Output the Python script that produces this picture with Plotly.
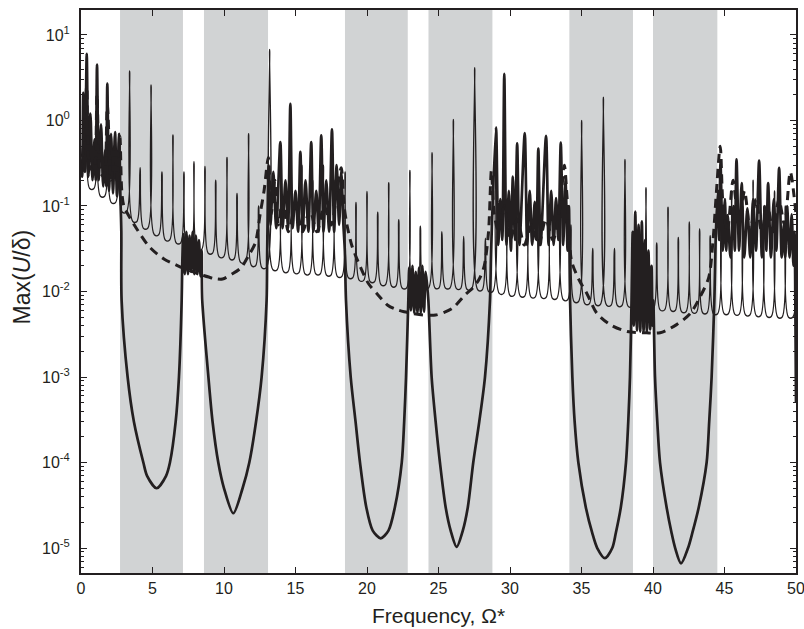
import plotly.graph_objects as go

# ---------------------------------------------------------------
# Shaded stop bands (frequency limits)
# ---------------------------------------------------------------
band_lo = [2.73, 8.60, 18.46, 24.30, 34.15, 40.00]
band_hi = [7.13, 13.08, 22.85, 28.77, 38.60, 44.50]

# ---------------------------------------------------------------
# Thin curve: resonance peaks and the trough that follows each peak
# ---------------------------------------------------------------
thin_start = 0.22
thin_end = 0.02
thin_peak_x = [0.38, 1.13, 1.88, 2.65, 3.40, 4.13, 4.90, 5.66, 6.43, 7.20,
               7.90, 8.67, 9.42, 10.21, 10.91, 11.72, 12.42, 13.19, 13.95, 14.70,
               15.45, 16.20, 16.95, 17.70, 18.47, 19.23, 20.00, 20.75, 21.52, 22.22,
               23.00, 23.73, 24.55, 25.24, 26.04, 26.76, 27.53, 28.28, 29.02, 29.78,
               30.50, 31.25, 31.98, 32.75, 33.50, 34.26, 35.01, 35.78, 36.53, 37.30,
               38.04, 38.78, 39.51, 40.26, 41.05, 41.77, 42.54, 43.26, 44.00, 44.75,
               45.50, 46.25, 47.00, 47.75, 48.50, 49.25]
thin_peak_y = [2.0, 1.5, 1.0, 0.7, 3.8, 0.28, 2.6, 0.25, 0.68, 0.25,
               0.33, 0.29, 0.20, 0.37, 0.14, 0.70, 0.10, 6.8, 0.30, 0.20,
               0.30, 0.20, 0.30, 0.20, 0.25, 0.11, 0.148, 0.085, 0.187, 0.069,
               0.26, 0.058, 0.42, 0.050, 1.03, 0.044, 4.15, 0.042, 0.83, 0.12,
               0.54, 0.10, 0.47, 0.10, 0.30, 0.06, 1.0, 0.032, 1.87, 0.032,
               0.35, 0.030, 0.164, 0.037, 0.097, 0.043, 0.065, 0.054, 0.045, 0.12,
               0.15, 0.10, 0.20, 0.10, 0.15, 0.10]
thin_trough_y = [0.16, 0.13, 0.11, 0.085, 0.066, 0.055, 0.046, 0.040, 0.037, 0.033,
                 0.031, 0.028, 0.0255, 0.024, 0.022, 0.020, 0.019, 0.018, 0.017, 0.0165,
                 0.016, 0.016, 0.0155, 0.015, 0.0145, 0.0135, 0.013, 0.012, 0.0115, 0.011,
                 0.011, 0.011, 0.011, 0.011, 0.0108, 0.0106, 0.0104, 0.010, 0.0095, 0.009,
                 0.0088, 0.0086, 0.0085, 0.0083, 0.008, 0.0076, 0.0072, 0.0070, 0.0069, 0.0068,
                 0.0067, 0.0065, 0.0063, 0.0061, 0.0060, 0.0058, 0.0057, 0.0056, 0.0055, 0.0055,
                 0.0054, 0.0053, 0.0052, 0.0051, 0.0050, 0.0050]

# ---------------------------------------------------------------
# Thick curve, range by range (pass bands oscillate, stop bands dip)
# ---------------------------------------------------------------
thick_p0_x = [0.00, 0.08, 0.16, 0.28, 0.40, 0.52, 0.66, 0.80, 0.95, 1.03,
              1.12, 1.24, 1.40, 1.55, 1.70, 1.77, 1.84, 1.96, 2.10, 2.24,
              2.38, 2.52, 2.66, 2.76, 2.82]
thick_p0_y = [0.35, 0.22, 2.1, 0.25, 6.0, 0.22, 1.2, 0.20, 0.60, 0.20,
              4.5, 0.20, 0.90, 0.17, 0.45, 0.17, 2.7, 0.15, 0.70, 0.14,
              0.73, 0.13, 0.70, 0.12, 0.05]

thick_s1_x = [2.84, 3.26, 3.70, 4.36, 4.62, 5.29, 5.95, 6.22, 6.62, 6.85, 7.04]
thick_s1_y = [7.9e-3, 1e-3, 3e-4, 1e-4, 7e-5, 5.0e-5, 7e-5, 1e-4, 3e-4, 1e-3, 7.9e-3]

thick_p1_x = [7.08, 7.15, 7.26, 7.37, 7.48, 7.59, 7.70, 7.81, 7.92, 8.03,
              8.14, 8.25, 8.36, 8.44]
thick_p1_y = [0.020, 0.047, 0.016, 0.050, 0.016, 0.045, 0.017, 0.050, 0.016, 0.045,
              0.016, 0.040, 0.015, 0.030]

thick_s2_x = [8.48, 8.91, 9.20, 9.60, 10.00, 10.65, 11.30, 11.77, 12.24, 12.63, 12.98]
thick_s2_y = [7.9e-3, 1e-3, 3e-4, 1e-4, 5e-5, 2.55e-5, 5e-5, 1e-4, 3e-4, 1e-3, 7.9e-3]

thick_p2_x = [13.02, 13.12, 13.25, 13.45, 13.65, 13.94, 14.10, 14.30, 14.48, 14.64,
              14.80, 15.00, 15.18, 15.34, 15.50, 15.70, 15.90, 16.10, 16.25, 16.45,
              16.62, 16.80, 16.96, 17.15, 17.35, 17.55, 17.70, 17.88, 18.05, 18.20,
              18.35, 18.45]
thick_p2_y = [0.03, 0.30, 0.06, 0.25, 0.055, 0.56, 0.055, 0.20, 0.055, 1.56,
              0.055, 0.15, 0.05, 0.43, 0.05, 0.20, 0.05, 0.56, 0.05, 0.15,
              0.05, 0.67, 0.05, 0.20, 0.05, 0.79, 0.05, 0.30, 0.06, 0.25,
              0.06, 0.03]

thick_s3_x = [18.53, 18.86, 19.20, 19.51, 19.95, 20.40, 20.96, 21.50, 21.95, 22.43,
              22.60, 22.73, 22.89]
thick_s3_y = [7.9e-3, 1e-3, 3e-4, 1e-4, 3e-5, 1.6e-5, 1.3e-5, 1.6e-5, 3e-5, 1e-4,
              3e-4, 1e-3, 7.9e-3]

thick_p3_x = [22.95, 23.07, 23.18, 23.30, 23.41, 23.53, 23.64, 23.76, 23.87, 23.99,
              24.10, 24.20]
thick_p3_y = [0.019, 0.006, 0.020, 0.0056, 0.017, 0.0056, 0.019, 0.0056, 0.020, 0.0058,
              0.017, 0.012]

thick_s4_x = [24.29, 24.52, 24.80, 25.10, 25.50, 25.85, 26.27, 26.70, 27.05, 27.43,
              27.85, 28.25, 28.60]
thick_s4_y = [7.9e-3, 1e-3, 3e-4, 1e-4, 3e-5, 1.6e-5, 1.03e-5, 1.6e-5, 3e-5, 1e-4,
              3e-4, 1e-3, 7.9e-3]

thick_p4_x = [28.68, 29.02, 29.18, 29.32, 29.46, 29.60, 29.75, 29.92, 30.06, 30.20,
              30.35, 30.50, 30.66, 31.03, 31.20, 31.38, 31.55, 31.73, 31.85, 31.98,
              32.14, 32.52, 32.70, 32.88, 33.05, 33.22, 33.38, 33.55, 33.72, 33.88,
              34.03, 34.12]
thick_p4_y = [0.03, 0.83, 0.035, 0.12, 0.04, 3.5, 0.035, 0.15, 0.03, 0.22,
              0.04, 0.54, 0.035, 0.71, 0.035, 0.15, 0.035, 0.112, 0.04, 0.47,
              0.035, 0.66, 0.035, 0.15, 0.035, 0.124, 0.04, 0.55, 0.035, 0.20,
              0.03, 0.10]

thick_s5_x = [34.20, 34.36, 34.52, 34.78, 35.30, 35.75, 36.10, 36.64, 37.15, 37.40,
              37.75, 38.11, 38.27, 38.39, 38.50]
thick_s5_y = [7.9e-3, 1e-3, 3e-4, 1e-4, 3e-5, 1.5e-5, 1e-5, 7.6e-6, 1e-5, 1.5e-5,
              3e-5, 1e-4, 3e-4, 1e-3, 7.9e-3]

thick_p5_x = [38.58, 38.66, 38.76, 38.88, 38.99, 39.11, 39.22, 39.34, 39.45, 39.57,
              39.68, 39.80, 39.90, 39.97]
thick_p5_y = [0.05, 0.004, 0.086, 0.0035, 0.06, 0.0034, 0.066, 0.0034, 0.04, 0.0034,
              0.03, 0.0036, 0.02, 0.004]

thick_s6_x = [40.02, 40.14, 40.30, 40.49, 40.95, 41.30, 41.55, 41.96, 42.45, 42.75,
              43.20, 43.75, 43.93, 44.10, 44.29]
thick_s6_y = [7.9e-3, 1e-3, 3e-4, 1e-4, 3e-5, 1.5e-5, 1e-5, 6.6e-6, 1e-5, 1.5e-5,
              3e-5, 1e-4, 3e-4, 1e-3, 7.9e-3]

thick_p6_x = [44.40, 44.55, 44.62, 44.72, 44.88, 45.03, 45.12, 45.22, 45.42, 45.62,
              45.72, 45.84, 46.02, 46.20, 46.38, 46.60, 46.80, 47.00, 47.20, 47.42,
              47.62, 47.82, 47.92, 48.05, 48.25, 48.45, 48.62, 48.82, 49.00, 49.15,
              49.25, 49.38, 49.55, 49.70, 49.82, 49.90, 49.96, 50.00]
thick_p6_y = [0.05, 0.15, 0.04, 0.32, 0.03, 0.12, 0.03, 0.078, 0.025, 0.10,
              0.03, 0.35, 0.03, 0.185, 0.025, 0.094, 0.025, 0.12, 0.03, 0.34,
              0.025, 0.10, 0.03, 0.185, 0.025, 0.12, 0.03, 0.28, 0.025, 0.06,
              0.025, 0.10, 0.025, 0.08, 0.02, 0.05, 0.005, 5e-4]

# ---------------------------------------------------------------
# Dashed curve
# ---------------------------------------------------------------
dash_x = [0.00, 0.20, 0.40, 0.60, 0.90, 1.12, 1.35, 1.60, 1.84, 2.10,
          2.35, 2.55, 2.72, 2.85, 3.00, 3.87, 4.80, 5.80, 6.78, 7.60,
          8.50, 9.30, 9.90, 10.56, 11.20, 11.70, 12.19, 12.54, 12.80, 13.10,
          13.30, 13.55, 13.80, 14.10, 14.50, 15.00, 15.50, 16.00, 16.50, 17.00,
          17.50, 17.90, 18.20, 18.40, 18.60, 18.95, 19.50, 20.10, 20.80, 21.45,
          22.00, 22.60, 23.30, 24.00, 24.80, 25.40, 26.00, 26.90, 27.40, 27.85,
          28.20, 28.50, 28.70, 28.90, 29.20, 29.60, 30.00, 30.50, 31.00, 31.50,
          32.00, 32.50, 33.00, 33.50, 33.80, 34.00, 34.30, 34.80, 35.40, 36.06,
          37.00, 38.20, 39.30, 40.50, 41.65, 42.60, 43.30, 43.90, 44.20, 44.40,
          44.70, 44.90, 45.20, 45.60, 46.00, 46.40, 46.80, 47.20, 47.60, 48.00,
          48.40, 48.80, 49.20, 49.60, 50.00]
dash_y = [0.25, 0.60, 2.5, 0.30, 0.25, 2.0, 0.25, 0.22, 1.5, 0.20,
          0.50, 0.18, 0.65, 0.15, 0.10, 0.055, 0.033, 0.024, 0.020, 0.0175,
          0.0155, 0.0142, 0.0140, 0.016, 0.019, 0.026, 0.037, 0.083, 0.15, 0.37,
          0.08, 0.20, 0.06, 0.12, 0.05, 0.10, 0.05, 0.09, 0.05, 0.10,
          0.06, 0.15, 0.28, 0.10, 0.06, 0.034, 0.020, 0.0124, 0.009, 0.0069,
          0.0062, 0.0058, 0.0055, 0.0053, 0.0053, 0.0057, 0.0064, 0.0093, 0.011, 0.014,
          0.020, 0.05, 0.26, 0.08, 0.05, 0.10, 0.04, 0.07, 0.035, 0.06,
          0.035, 0.07, 0.04, 0.10, 0.30, 0.12, 0.023, 0.014, 0.0093, 0.0056,
          0.0041, 0.0034, 0.0033, 0.0033, 0.0041, 0.0055, 0.0087, 0.0146, 0.04, 0.12,
          0.50, 0.10, 0.05, 0.20, 0.06, 0.15, 0.05, 0.12, 0.05, 0.10,
          0.05, 0.12, 0.06, 0.25, 0.08]

# y-axis decades
y_decades = [-5, -4, -3, -2, -1, 0, 1]

# ---------------------------------------------------------------
INK = "#231f20"
FONT = "Liberation Sans, Arial, Helvetica, sans-serif"

# thin curve path: sharp peak, flat-bottomed trough between peaks
thin_x, thin_y = [0.0], [thin_start]
for k, (px, py) in enumerate(zip(thin_peak_x, thin_peak_y)):
    nxt = thin_peak_x[k + 1] if k + 1 < len(thin_peak_x) else px + 0.75
    gap = nxt - px
    thin_x += [px, px + 0.3 * gap, px + 0.7 * gap]
    thin_y += [py, thin_trough_y[k], thin_trough_y[k]]
thin_x.append(50.0)
thin_y.append(thin_end)

thick_x = (thick_p0_x + thick_s1_x + thick_p1_x + thick_s2_x + thick_p2_x + thick_s3_x
           + thick_p3_x + thick_s4_x + thick_p4_x + thick_s5_x + thick_p5_x + thick_s6_x
           + thick_p6_x)
thick_y = (thick_p0_y + thick_s1_y + thick_p1_y + thick_s2_y + thick_p2_y + thick_s3_y
           + thick_p3_y + thick_s4_y + thick_p4_y + thick_s5_y + thick_p5_y + thick_s6_y
           + thick_p6_y)

fig = go.Figure()

for lo, hi in zip(band_lo, band_hi):
    fig.add_vrect(x0=lo, x1=hi, fillcolor="#d1d3d4", opacity=1,
                  line_width=0, layer="below")

fig.add_trace(go.Scatter(x=thin_x, y=thin_y, mode="lines",
                         line=dict(color=INK, width=1.3, shape="spline", smoothing=1.0),
                         showlegend=False, hoverinfo="skip"))
fig.add_trace(go.Scatter(x=thick_x, y=thick_y, mode="lines",
                         line=dict(color=INK, width=2.7, shape="spline", smoothing=0.8),
                         showlegend=False, hoverinfo="skip"))
fig.add_trace(go.Scatter(x=dash_x, y=dash_y, mode="lines",
                         line=dict(color=INK, width=3.0, dash="9px,6px",
                                   shape="spline", smoothing=0.8),
                         showlegend=False, hoverinfo="skip"))

major_vals = [10.0 ** e for e in y_decades]
major_text = ["10<sup>%d</sup>" % e for e in y_decades]
minor_vals = [m * 10.0 ** e for e in range(-6, 2) for m in range(2, 10)]

fig.update_layout(
    width=804, height=629,
    margin=dict(l=81, r=8, t=10, b=56),
    paper_bgcolor="white", plot_bgcolor="white",
    font=dict(family=FONT, size=16, color=INK),
    annotations=[dict(
        text="Max(<i>U</i>/\u03b4)", textangle=-90,
        xref="paper", yref="paper", x=0, y=0.525,
        xanchor="center", yanchor="middle", xshift=-59, showarrow=False,
        font=dict(size=23, family=FONT, color=INK),
    )],
)
fig.update_xaxes(
    range=[0, 50], tickmode="linear", tick0=0, dtick=5, automargin=False,
    ticklabeloverflow="allow",
    ticks="inside", ticklen=6, tickwidth=1.2, tickcolor=INK,
    showline=True, linewidth=2, linecolor=INK, mirror="allticks",
    showgrid=False, zeroline=False,
    tickfont=dict(size=16, family=FONT, color=INK),
    title=dict(text="Frequency, \u03a9*", font=dict(size=21, family=FONT, color=INK),
               standoff=12),
)
fig.update_yaxes(
    type="log", range=[-5.292, 1.292], automargin=False,
    tickmode="array", tickvals=major_vals, ticktext=major_text,
    ticks="inside", ticklen=6, tickwidth=1.2, tickcolor=INK, ticklabelstandoff=6,
    minor=dict(tickmode="array", tickvals=minor_vals, ticks="inside",
               ticklen=3, tickwidth=1, tickcolor=INK, showgrid=False),
    showline=True, linewidth=2, linecolor=INK, mirror="allticks",
    showgrid=False, zeroline=False,
    tickfont=dict(size=16, family=FONT, color=INK),
)

fig.write_html("out.html")
